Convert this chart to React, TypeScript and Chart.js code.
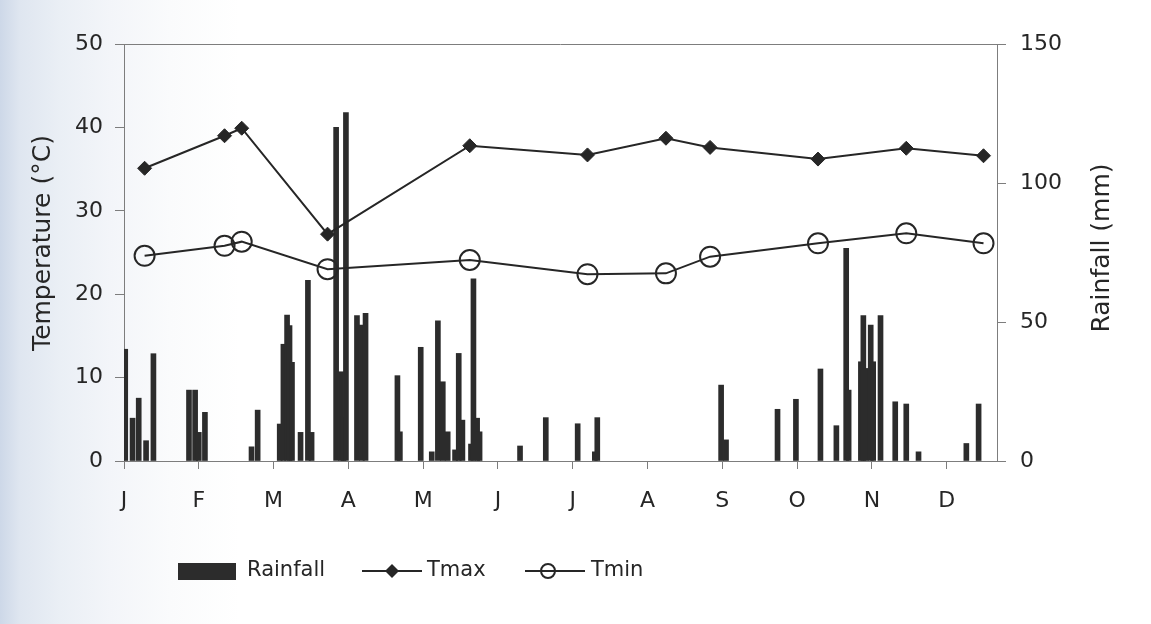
import React, { useEffect, useRef } from "react";
import { Chart, registerables } from "chart.js";

Chart.register(...registerables);

// ---- data ----
const monthLabels = ["J", "F", "M", "A", "M", "J", "J", "A", "S", "O", "N", "D"];
const monthStartDays = [0, 30.5, 61, 91.5, 122, 152.5, 183, 213.5, 244, 274.5, 305, 335.5];
const tempTicks = [0, 10, 20, 30, 40, 50];
const rainTicks = [0, 50, 100, 150];

const tempDays = [8.4, 41, 48, 83, 141, 189, 221, 239, 283, 319, 350.5];
const tmax = [35.1, 39.0, 39.9, 27.2, 37.8, 36.7, 38.7, 37.6, 36.2, 37.5, 36.6];
const tmin = [24.6, 25.8, 26.3, 23.0, 24.1, 22.4, 22.5, 24.5, 26.1, 27.3, 26.1];

const rainDays = [
  0.5, 3.5, 6, 9, 12, 26.5, 29, 30.5, 33, 52, 54.5, 63.5, 65, 66.5, 67.5, 68.5,
  72, 75, 76.5, 86.5, 88.5, 89.5, 90.5, 95, 97, 98.5, 111.5, 112.5, 121, 125.5,
  128, 130, 132, 135, 136.5, 138, 141.5, 142.5, 144, 145, 161.5, 172, 185, 192,
  193, 243.5, 245.5, 266.5, 274, 284, 290.5, 294.5, 295.5, 300.5, 301.5, 302.5,
  304.5, 305.5, 308.5, 314.5, 319, 324, 343.5, 348.5,
];
const rainfall = [
  40.2, 15.4, 22.6, 7.3, 38.6, 25.5, 25.5, 10.3, 17.5, 5.1, 18.3, 13.3, 42, 52.5, 48.7, 35.5,
  10.3, 65, 10.3, 120, 32.1, 15.8, 125.3, 52.3, 48.9, 53.1, 30.7, 10.5, 40.9, 3.3,
  50.4, 28.5, 10.5, 4, 38.7, 14.7, 6.1, 65.5, 15.4, 10.5, 5.4, 15.6, 13.4, 3.3,
  15.6, 27.3, 7.6, 18.6, 22.2, 33.1, 12.7, 76.5, 25.5, 35.7, 52.3, 33.3,
  48.9, 35.7, 52.3, 21.3, 20.5, 3.3, 6.3, 20.5,
];

const FONT = "'DejaVu Sans', 'Liberation Sans', sans-serif";
const INK = "#262626";
const TEXT = "#262626";
const AXIS = "#7d7d7d";
const BAR = "#2c2c2c";

const decorPlugin = {
  id: "decor",
  afterDraw(chart: any) {
    const { ctx, chartArea } = chart;
    ctx.save();
    // top frame line
    ctx.strokeStyle = AXIS;
    ctx.lineWidth = 1;
    ctx.beginPath();
    ctx.moveTo(chartArea.left, chartArea.top + 0.5);
    ctx.lineTo(chartArea.right, chartArea.top + 0.5);
    ctx.stroke();

    // axis titles (both read bottom-to-top)
    ctx.fillStyle = TEXT;
    ctx.font = `25px ${FONT}`;
    ctx.textAlign = "center";
    ctx.textBaseline = "middle";
    ctx.save();
    ctx.translate(43, 243);
    ctx.rotate(-Math.PI / 2);
    ctx.fillText("Temperature (°C)", 0, 0);
    ctx.restore();
    ctx.save();
    ctx.translate(1102, 248);
    ctx.rotate(-Math.PI / 2);
    ctx.fillText("Rainfall (mm)", 0, 0);
    ctx.restore();

    // legend
    const ly = 571;
    ctx.font = `21px ${FONT}`;
    ctx.textAlign = "left";
    ctx.textBaseline = "middle";
    ctx.fillStyle = BAR;
    ctx.fillRect(178, 563, 58, 17);
    ctx.fillStyle = TEXT;
    ctx.fillText("Rainfall", 247, ly);

    ctx.strokeStyle = INK;
    ctx.lineWidth = 2;
    ctx.beginPath();
    ctx.moveTo(362, ly);
    ctx.lineTo(422, ly);
    ctx.stroke();
    ctx.fillStyle = INK;
    ctx.beginPath();
    ctx.moveTo(392 - 7, ly);
    ctx.lineTo(392, ly - 7);
    ctx.lineTo(392 + 7, ly);
    ctx.lineTo(392, ly + 7);
    ctx.closePath();
    ctx.fill();
    ctx.fillStyle = TEXT;
    ctx.fillText("Tmax", 427, ly);

    ctx.beginPath();
    ctx.moveTo(525, ly);
    ctx.lineTo(585, ly);
    ctx.stroke();
    ctx.beginPath();
    ctx.arc(548, ly, 7, 0, Math.PI * 2);
    ctx.stroke();
    ctx.fillText("Tmin", 591, ly);
    ctx.restore();
  },
};

export default function App() {
  const canvasRef = useRef<HTMLCanvasElement | null>(null);

  useEffect(() => {
    const canvas = canvasRef.current;
    if (!canvas) return;
    const chart = new Chart(canvas, {
      type: "bar",
      data: {
        datasets: [
          {
            type: "line",
            label: "Tmax",
            data: tempDays.map((d, i) => ({ x: d, y: tmax[i] })),
            yAxisID: "y",
            xAxisID: "x",
            borderColor: INK,
            borderWidth: 2,
            pointStyle: "rectRot",
            pointRadius: 7,
            pointBackgroundColor: INK,
            pointBorderColor: INK,
            pointBorderWidth: 1,
            tension: 0,
            order: 1,
          } as any,
          {
            type: "line",
            label: "Tmin",
            data: tempDays.map((d, i) => ({ x: d, y: tmin[i] })),
            yAxisID: "y",
            xAxisID: "x",
            borderColor: INK,
            borderWidth: 2,
            pointStyle: "circle",
            pointRadius: 10,
            pointBackgroundColor: "rgba(0,0,0,0)",
            pointBorderColor: INK,
            pointBorderWidth: 2,
            tension: 0,
            order: 1,
          } as any,
          {
            type: "bar",
            label: "Rainfall",
            data: rainDays.map((d, i) => ({ x: d, y: rainfall[i] })),
            yAxisID: "y1",
            xAxisID: "x",
            backgroundColor: BAR,
            borderWidth: 0,
            barThickness: 5,
            order: 2,
          } as any,
        ],
      },
      options: {
        animation: false,
        responsive: false,
        devicePixelRatio: 1,
        layout: { padding: { top: 44, left: 0, right: 0, bottom: 0 } },
        plugins: {
          legend: { display: false },
          tooltip: { enabled: false },
          title: { display: false },
        },
        scales: {
          x: {
            type: "linear",
            position: "bottom",
            min: 0,
            max: 356,
            offset: false,
            afterBuildTicks: (s: any) => {
              s.ticks = monthStartDays.map((v) => ({ value: v }));
            },
            afterFit: (s: any) => {
              s.height = 163;
            },
            grid: {
              offset: false,
              drawOnChartArea: false,
              drawTicks: true,
              tickLength: 8,
              color: AXIS,
              lineWidth: 1,
            },
            border: { display: true, color: AXIS, width: 1 },
            ticks: {
              autoSkip: false,
              maxRotation: 0,
              minRotation: 0,
              padding: 19,
              color: TEXT,
              font: { family: FONT, size: 22 },
              callback: (_v: any, i: number) => monthLabels[i] ?? "",
            },
          },
          y: {
            type: "linear",
            position: "left",
            min: 0,
            max: 50,
            afterBuildTicks: (s: any) => {
              s.ticks = tempTicks.map((v) => ({ value: v }));
            },
            afterFit: (s: any) => {
              s.width = 124;
            },
            grid: { drawOnChartArea: false, tickLength: 9, color: AXIS, lineWidth: 1 },
            border: { display: true, color: AXIS, width: 1 },
            ticks: { padding: 12, color: TEXT, font: { family: FONT, size: 22 } },
          },
          y1: {
            type: "linear",
            position: "right",
            min: 0,
            max: 150,
            afterBuildTicks: (s: any) => {
              s.ticks = rainTicks.map((v) => ({ value: v }));
            },
            afterFit: (s: any) => {
              s.width = 154;
            },
            grid: { drawOnChartArea: false, tickLength: 9, color: AXIS, lineWidth: 1 },
            border: { display: true, color: AXIS, width: 1 },
            ticks: { padding: 14, color: TEXT, font: { family: FONT, size: 22 } },
          },
        },
      } as any,
      plugins: [decorPlugin],
    });
    return () => chart.destroy();
  }, []);

  return (
    <div
      style={{
        position: "fixed",
        left: 0,
        top: 0,
        width: 1151,
        height: 624,
        background:
          "linear-gradient(to right, #cdd8e8 0px, #dfe6f0 20px, #eaeff5 60px, #f3f5f9 110px, #fafbfc 170px, #ffffff 240px)",
      }}
    >
      <canvas ref={canvasRef} width={1151} height={624} style={{ display: "block" }} />
    </div>
  );
}
